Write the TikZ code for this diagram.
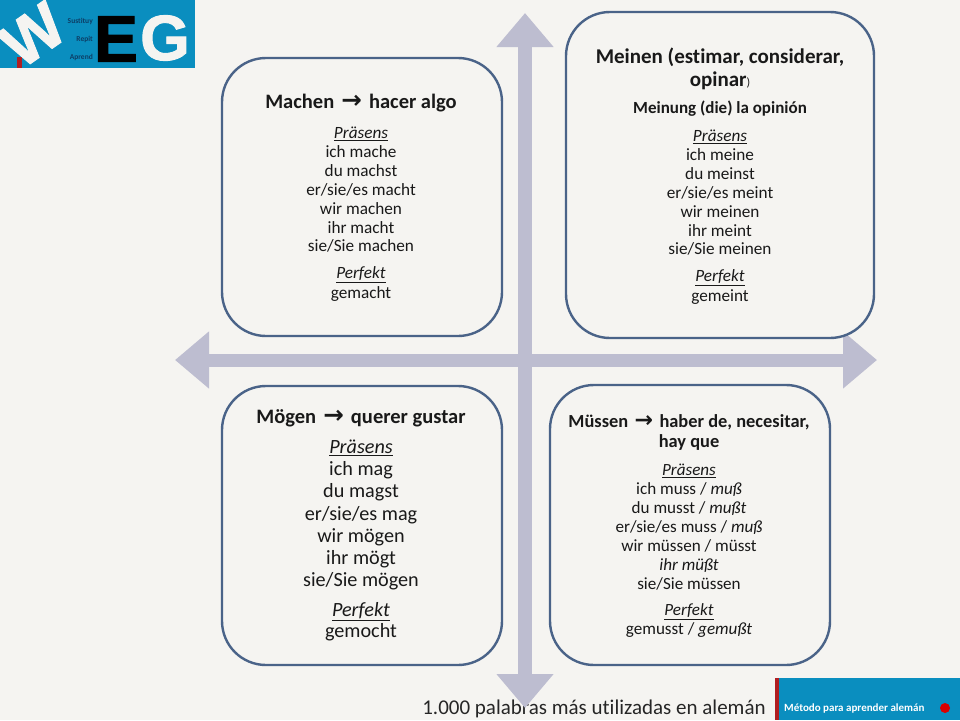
\documentclass[tikz,border=0pt]{standalone}
\usepackage{graphicx}
\usepackage{fontspec}
\setmainfont[Ligatures=NoCommon]{Carlito}
\newfontfamily\arrowfont{DejaVu Sans}
\newfontfamily\logofont[FakeBold=1.5]{Liberation Sans Bold}
\usetikzlibrary{arrows.meta}
\definecolor{bgc}{HTML}{F5F4F1}
\definecolor{edgec}{HTML}{4A6388}
\definecolor{axisc}{HTML}{BDBDD0}
\definecolor{logoc}{HTML}{0A8EBF}
\definecolor{barc}{HTML}{B01E22}
\definecolor{navyc}{HTML}{0D3E66}
\newcommand{\ulit}[1]{\underline{\textit{#1}}}
\newcommand{\myarrow}{\hspace{0.12em}\scalebox{1.2}{\arrowfont\bfseries →}\hspace{0.12em}}
\tikzset{
  x=1pt,y=-1pt,
  cardbox/.style={draw=edgec,line width=2.4pt,rounded corners=44pt,fill=bgc},
  axisline/.style={draw=axisc,line width=14pt,{Triangle[width=55pt,length=34pt]}-{Triangle[width=55pt,length=34pt]}},
  body/.style={align=center,inner sep=0pt,text=black!90},
  small/.style={font=\fontsize{7.5}{8}\selectfont\bfseries,text=navyc,inner sep=0pt,anchor=east},
  logoletter/.style={inner sep=0pt},
}
\begin{document}
\begin{tikzpicture}
\useasboundingbox (0,0) rectangle (960,720);
\fill[bgc] (0,0) rectangle (960,720);
% logo
\fill[logoc] (0,0) rectangle (195,68);
\fill[barc] (17,57) rectangle (22,68);
\begin{scope}
\clip (0,0) rectangle (195,68);
\node[logoletter,rotate=35,font=\logofont\fontsize{64}{64}\selectfont,text=bgc] (logow) at (33,35) {W};
\end{scope}
\node[logoletter,font=\logofont\fontsize{66}{66}\selectfont,text=black] (logoe) at (116,39) {E};
\node[logoletter,font=\logofont\fontsize{64}{64}\selectfont,text=bgc] (logog) at (165,38) {G};
\node[small] (s1) at (93,21) {Sustituy};
\node[small] (s2) at (93,39) {Repit};
\node[small] (s3) at (93,57) {Aprend};
% footer
\node[inner sep=0pt,font=\fontsize{21}{24}\selectfont,text=black!85] (foot) at (594,709) {1.000 palabras más utilizadas en alemán};
% axes
\coordinate (top) at (525,13);
\coordinate (bottom) at (525,708);
\coordinate (left) at (175,360);
\coordinate (right) at (877,360);
\draw[axisline] (top) -- (bottom);
\draw[axisline,line width=13pt] (left) -- (right);
% cards
\draw[cardbox] (222,58) rectangle (502,336);
\draw[cardbox] (566,12) rectangle (874,338);
\draw[cardbox] (222,386) rectangle (502,665);
\draw[cardbox] (550,385) rectangle (830,665);
% Machen
\node[body,font=\fontsize{20.5}{22}\selectfont\bfseries] (t1) at (361,103) {Machen \myarrow{} hacer algo};
\node[body,font=\fontsize{17.2}{18.85}\selectfont] (b1) at (361,190) {\ulit{Präsens}\\ich mache\\du machst\\er/sie/es macht\\wir machen\\ihr macht\\sie/Sie machen};
\node[body,font=\fontsize{17.2}{19.5}\selectfont] (p1) at (361,284) {\ulit{Perfekt}\\gemacht};
% Meinen
\node[body,font=\fontsize{21}{23.5}\selectfont\bfseries] (t2) at (720,69) {Meinen (estimar, considerar,\\opinar{\mdseries\fontsize{12}{14}\selectfont)}};
\node[body,font=\fontsize{17}{19}\selectfont\bfseries] (m2) at (720,109) {Meinung (die) la opinión};
\node[body,font=\fontsize{17.2}{18.85}\selectfont] (b2) at (720,193) {\ulit{Präsens}\\ich meine\\du meinst\\er/sie/es meint\\wir meinen\\ihr meint\\sie/Sie meinen};
\node[body,font=\fontsize{17.2}{19.5}\selectfont] (p2) at (720,287) {\ulit{Perfekt}\\gemeint};
% Mögen
\node[body,font=\fontsize{20.5}{22}\selectfont\bfseries] (t3) at (361,418) {Mögen \myarrow{} querer gustar};
\node[body,font=\fontsize{20.2}{22.1}\selectfont] (b3) at (361,515) {\ulit{Präsens}\\ich mag\\du magst\\er/sie/es mag\\wir mögen\\ihr mögt\\sie/Sie mögen};
\node[body,font=\fontsize{20.2}{21.2}\selectfont] (p3) at (361,622) {\ulit{Perfekt}\\gemocht};
% Müssen
\node[body,font=\fontsize{18.4}{20}\selectfont\bfseries] (t4) at (689,432) {Müssen \myarrow{} haber de, necesitar,\\hay que};
\node[body,font=\fontsize{17.1}{19}\selectfont] (b4) at (689,527) {\ulit{Präsens}\\ich muss / \textit{muß}\\du musst / \textit{mußt}\\er/sie/es muss / \textit{muß}\\wir müssen / müsst\\\textit{ihr müßt}\\sie/Sie müssen};
\node[body,font=\fontsize{17.1}{19}\selectfont] (p4) at (689,621) {\ulit{Perfekt}\\gemusst / \textit{gemußt}};
% brand
\fill[logoc] (775,678) rectangle (960,720);
\fill[barc] (775,678) rectangle (779,720);
\node[inner sep=0pt,anchor=west,font=\fontsize{11}{12}\selectfont\bfseries,text=white] (brand) at (784,708) {Método para aprender alemán};
\fill[red!85!black] (945,708) circle (5pt);
\end{tikzpicture}
\end{document}
